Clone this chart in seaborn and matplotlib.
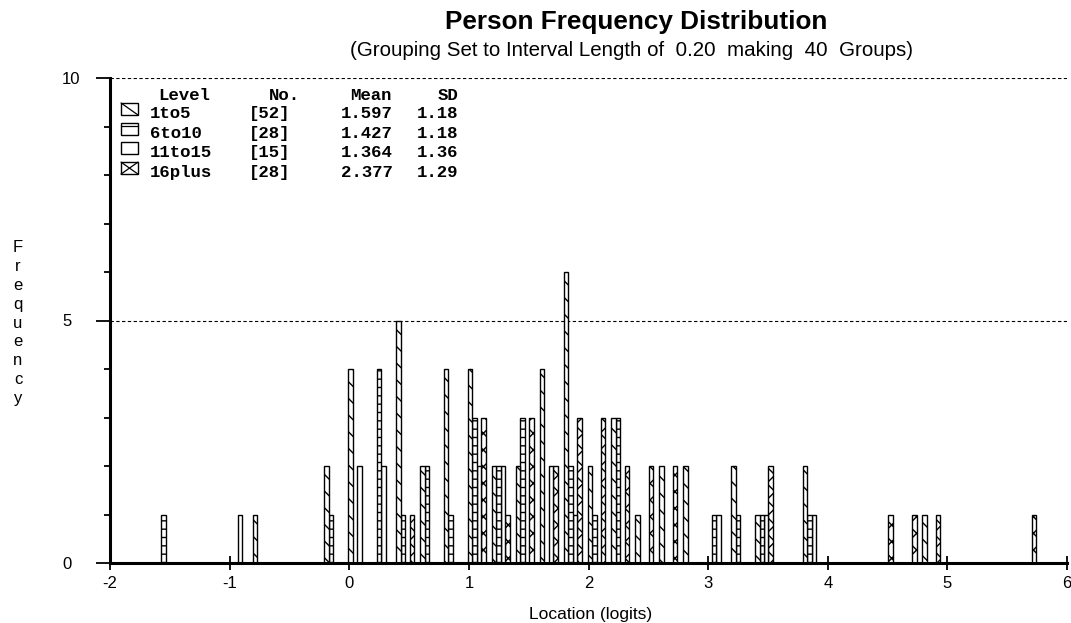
import numpy as np
import pandas as pd
import matplotlib
matplotlib.use("Agg")
import matplotlib.pyplot as plt
import seaborn as sns
from matplotlib.patches import Rectangle
from matplotlib.lines import Line2D
from matplotlib.ticker import MultipleLocator, FixedLocator

# ---------------- data ----------------
levels = ["1to5", "6to10", "11to15", "16plus"]
level_n = [52, 28, 15, 28]
level_mean = ["1.597", "1.427", "1.364", "2.377"]
level_sd = ["1.18", "1.18", "1.36", "1.29"]

# lower edge of each 0.20-logit interval and number of persons per level
bins_1to5 = [-0.8, -0.2, 0.0, 0.4, 0.6, 0.8, 1.0, 1.2, 1.4, 1.6, 1.8, 2.0, 2.2, 2.4, 2.6, 2.8, 3.2, 3.4, 3.8, 4.8]
counts_1to5 = [1, 2, 4, 5, 2, 4, 4, 2, 2, 4, 6, 2, 3, 1, 2, 2, 2, 1, 2, 1]
bins_6to10 = [-1.6, -0.2, 0.2, 0.4, 0.6, 0.8, 1.0, 1.2, 1.4, 1.8, 2.0, 2.2, 3.0, 3.2, 3.4, 3.8]
counts_6to10 = [1, 1, 4, 1, 2, 1, 3, 2, 3, 2, 1, 3, 1, 1, 1, 1]
bins_11to15 = [-1.0, 0.0, 0.2, 1.0, 1.2, 1.6, 1.8, 3.0, 3.4, 3.8]
counts_11to15 = [1, 2, 2, 2, 2, 2, 1, 1, 1, 1]
bins_16plus = [0.4, 1.0, 1.2, 1.4, 1.6, 1.8, 2.0, 2.2, 2.4, 2.6, 3.4, 4.4, 4.6, 4.8, 5.6]
counts_16plus = [1, 3, 1, 3, 2, 3, 3, 2, 2, 2, 2, 1, 1, 1, 1]

x_ticks = [-2, -1, 0, 1, 2, 3, 4, 5, 6]
y_major = [0, 5, 10]
interval = 0.20
n_groups = 40

title = "Person Frequency Distribution"
subtitle = "(Grouping Set to Interval Length of  0.20  making  40  Groups)"
x_label = "Location (logits)"
y_label = "Frequency"

# ---------------- build long table ----------------
frames = []
for name, b, c in zip(levels,
                      [bins_1to5, bins_6to10, bins_11to15, bins_16plus],
                      [counts_1to5, counts_6to10, counts_11to15, counts_16plus]):
    frames.append(pd.DataFrame({"location": np.array(b) + interval / 2,
                                "level": name, "count": c}))
df = pd.concat(frames, ignore_index=True)

# ---------------- style ----------------
sns.set_style("white")
plt.rcParams["font.family"] = ["Liberation Sans", "DejaVu Sans"]
plt.rcParams["hatch.linewidth"] = 1.0
plt.rcParams["text.color"] = "black"

W, H = 1071, 623
def fx(px):
    return px / W
def fy(py):
    return 1 - py / H

fig = plt.figure(figsize=(W / 100, H / 100), dpi=100)
ax = fig.add_axes([fx(110), fy(563), (1067 - 110) / W, (563 - 78) / H])

shrink = 0.75
shift = 0.033  # visual alignment of the dodged group within each interval
edges = [float(e) for e in np.linspace(x_ticks[0], x_ticks[-1], n_groups + 1) - shift]

sns.histplot(data=df, x="location", weights="count", hue="level",
             hue_order=levels, bins=edges, multiple="dodge", shrink=shrink,
             palette={lv: "white" for lv in levels}, alpha=1,
             edgecolor="black", linewidth=1.0, legend=False, ax=ax)

hatches = {"1to5": "\\\\", "6to10": "--", "11to15": "", "16plus": "xx"}
sub_w = interval * shrink / len(levels)
for cont in ax.containers:
    x0 = cont.patches[0].get_x()
    g = int(round((x0 - edges[0] - interval * (1 - shrink) / 2) / sub_w))
    g = max(0, min(len(levels) - 1, g))
    for p in cont.patches:
        p.set_hatch(hatches[levels[g]])
        p.set_facecolor("white")
        p.set_edgecolor("black")

ax.set_xlim(x_ticks[0], x_ticks[-1])
ax.set_ylim(0, 10)
ax.xaxis.set_major_locator(FixedLocator(x_ticks))
ax.yaxis.set_major_locator(FixedLocator(y_major))
ax.yaxis.set_minor_locator(MultipleLocator(1))
ax.set_xticklabels([str(t) for t in x_ticks])
ax.set_yticklabels([str(t) for t in y_major])

for s in ["top", "right"]:
    ax.spines[s].set_visible(False)
for s in ["left", "bottom"]:
    ax.spines[s].set_linewidth(2.2)
    ax.spines[s].set_color("black")

ax.grid(False)
ax.yaxis.grid(True, which="major", linestyle=(0, (3, 2.2)), color="black", linewidth=0.8)
ax.set_axisbelow(True)

ax.tick_params(axis="y", which="major", direction="out", length=10, width=1.3,
               pad=24.5, labelsize=12, colors="black", left=True)
ax.tick_params(axis="y", which="minor", direction="out", length=4, width=1.3,
               colors="black", left=True)
ax.tick_params(axis="x", which="major", direction="inout", length=10, width=1.3,
               pad=4.5, labelsize=12, colors="black", bottom=True)
for lab in ax.get_yticklabels():
    lab.set_ha("left")

ax.set_xlabel(x_label, fontsize=12.5, color="black")
ax.xaxis.set_label_coords((591 - 110) / 957, -(614 - 563) / 485)
ax.xaxis.label.set_va("center")
ax.set_ylabel("")

fig.text(fx(636), fy(22), title, ha="center", va="center", fontsize=18.8,
         fontweight="bold", color="black")
fig.text(fx(631), fy(51), subtitle, ha="center", va="center", fontsize=14.8,
         color="black")
fig.text(fx(18), fy(323), "\n".join(y_label), ha="center", va="center",
         fontsize=12, linespacing=1.32, color="black")

# ---------------- legend table ----------------
mono = dict(family=["Liberation Mono", "DejaVu Sans Mono"], fontsize=12.5,
            fontweight="bold", color="black", va="baseline")
header_base = 100
fig.text(fx(158), fy(header_base), "Level", ha="left", **mono)
fig.text(fx(300), fy(header_base), "No.", ha="right", **mono)
fig.text(fx(392), fy(header_base), "Mean", ha="right", **mono)
fig.text(fx(458), fy(header_base), "SD", ha="right", **mono)

bx0, bw, bh = 121, 17, 12
for i, (lv, n, m, sd) in enumerate(zip(levels, level_n, level_mean, level_sd)):
    base = 118 + i * 19.7
    fig.text(fx(150), fy(base), lv, ha="left", **mono)
    fig.text(fx(290), fy(base), f"[{n}]", ha="right", **mono)
    fig.text(fx(393), fy(base), m, ha="right", **mono)
    fig.text(fx(458), fy(base), sd, ha="right", **mono)
    top, bot = base - 3 - bh, base - 3
    fig.add_artist(Rectangle((fx(bx0), fy(bot)), bw / W, bh / H,
                             transform=fig.transFigure, facecolor="white",
                             edgecolor="black", linewidth=1.0))
    segs = []
    if lv == "1to5":
        segs = [((bx0, top), (bx0 + bw, bot))]
    elif lv == "6to10":
        segs = [((bx0, top + 3), (bx0 + bw, top + 3))]
    elif lv == "16plus":
        segs = [((bx0, top), (bx0 + bw, bot)), ((bx0, bot), (bx0 + bw, top))]
    for (xa, ya), (xb, yb) in segs:
        fig.add_artist(Line2D([fx(xa), fx(xb)], [fy(ya), fy(yb)],
                              transform=fig.transFigure, color="black",
                              linewidth=0.9))

fig.savefig("out.png", dpi=100)
